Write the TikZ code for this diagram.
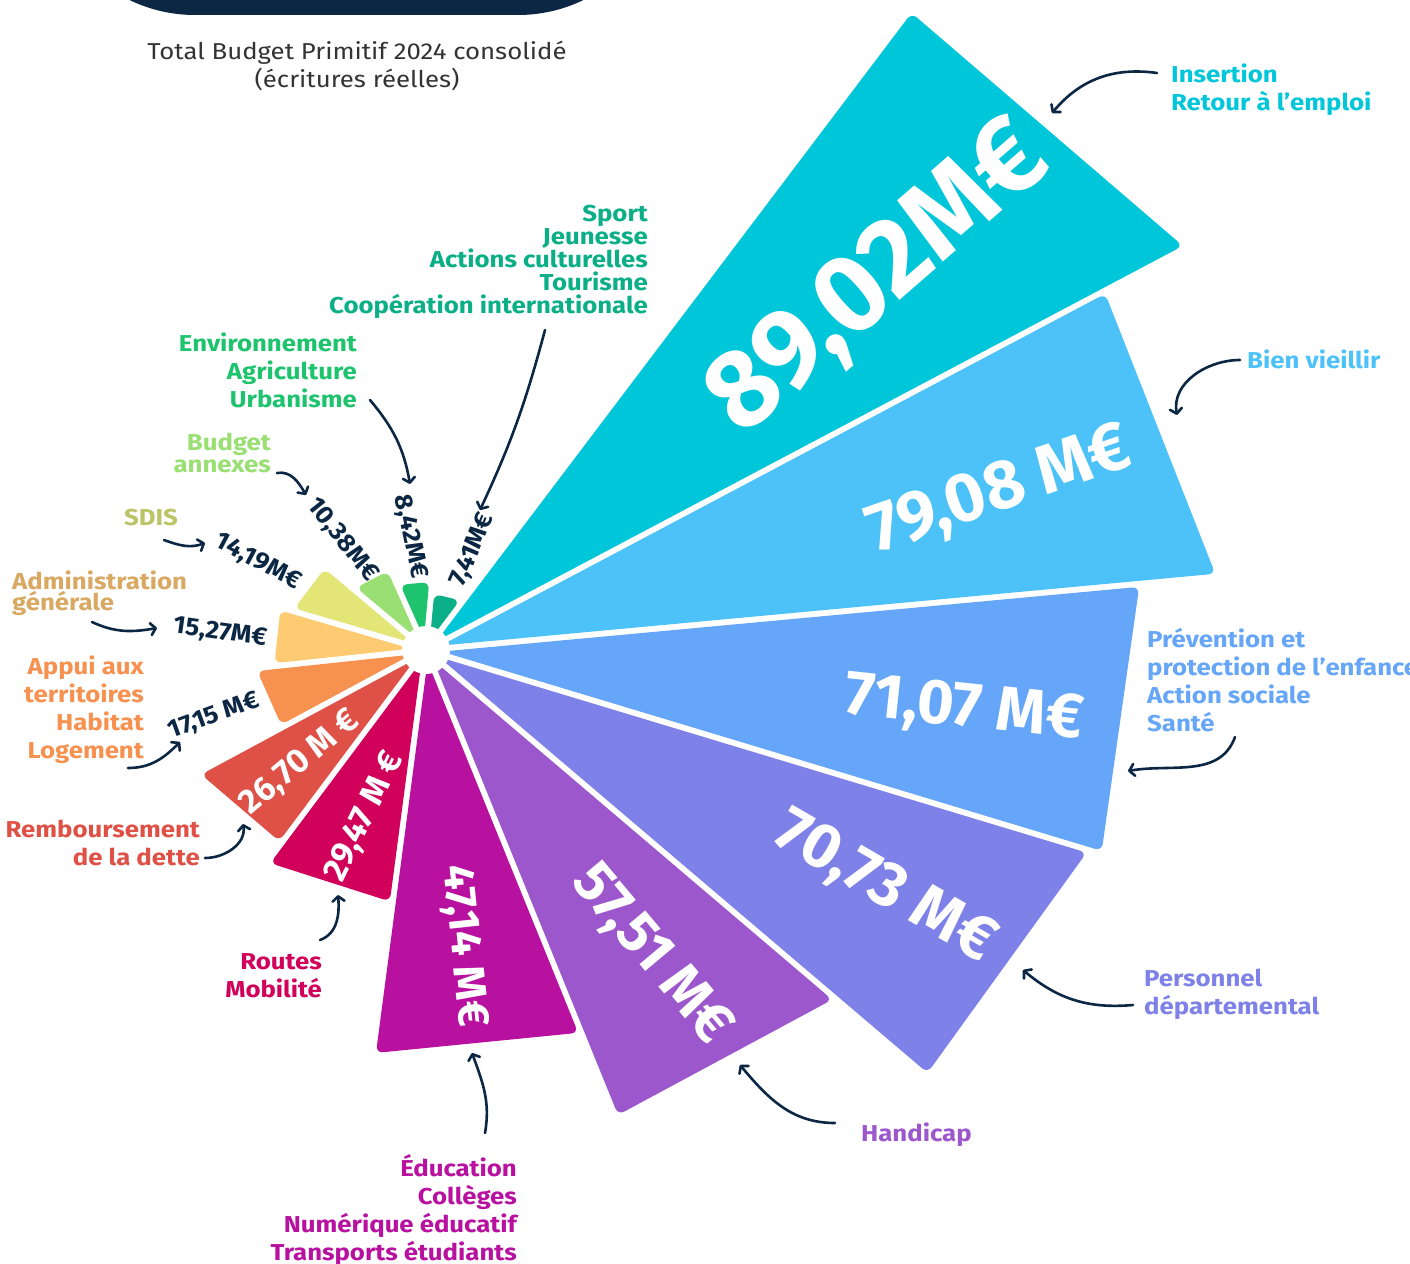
\documentclass[tikz,border=0pt]{standalone}
\usepackage{fontspec}
\setmainfont{Fira Sans}
\newfontfamily\labfont[FakeStretch=1.12]{Fira Sans}
\newfontfamily\valfont[FakeStretch=1.05]{Fira Sans}
\usetikzlibrary{arrows.meta,calc}
\definecolor{navy}{HTML}{0B2744}
\definecolor{cIns}{HTML}{00C6DA}
\definecolor{cBV}{HTML}{4CC2F8}
\definecolor{cPrev}{HTML}{66A6F8}
\definecolor{cPers}{HTML}{7E81E8}
\definecolor{cHand}{HTML}{9B57CB}
\definecolor{cEdu}{HTML}{B8109F}
\definecolor{cRoute}{HTML}{D1005A}
\definecolor{cRemb}{HTML}{DF5146}
\definecolor{cAppui}{HTML}{F6914F}
\definecolor{cAdmin}{HTML}{FECB73}
\definecolor{cAdminT}{HTML}{D9A862}
\definecolor{cSdis}{HTML}{E3E677}
\definecolor{cSdisT}{HTML}{BCC466}
\definecolor{cBud}{HTML}{9ADF73}
\definecolor{cEnv}{HTML}{1EC36E}
\definecolor{cSport}{HTML}{0AAE87}
\definecolor{subgray}{HTML}{333333}
% wedge: colour, start angle, end angle, radius at start, radius at end
\newcommand\wedgepiece[5]{%
  \pgfmathsetmacro\mA{(#2+#3)/2}%
  \pgfmathsetmacro\hA{(#3-#2)/2}%
  \pgfmathsetmacro\dA{3/sin(\hA)}%
  \fill[#1, rounded corners=7pt] ($(C)+(\mA:\dA pt)$) -- ($(C)+(#2:#4 pt)+(#2+90:3pt)$) -- ($(C)+(#3:#5 pt)+(#3-90:3pt)$) -- cycle;
}
\newcommand\fl{\rule{0pt}{22pt}}
\begin{document}
\begin{tikzpicture}[x=1pt,y=-1pt,
  lab/.style={inner sep=0pt, font=\labfont\fontsize{23}{28}\selectfont\bfseries},
  val/.style={inner sep=0pt, text=navy, font=\valfont\fontsize{25}{25}\selectfont\bfseries},
  big/.style={inner sep=0pt, text=white},
  arr/.style={draw=navy, line width=2.6pt, line cap=round, -{Straight Barb[length=5pt,width=12pt,line cap=round,line join=round]}},
]
\useasboundingbox (0,0) rectangle (1410,1263);
\fill[white] (0,0) rectangle (1410,1263);
% top banner
\fill[navy, rounded corners=150pt] (45,-300) rectangle (668,15);
\node[inner sep=0pt, align=center, text=subgray, font=\labfont\fontsize{23}{28}\selectfont] (sub) at (357,66) {Total Budget Primitif 2024 consolidé\\(écritures réelles)};

\coordinate (C) at (426,650);
\wedgepiece{cIns}{27.9}{52.9}{858}{801}
\wedgepiece{cBV}{5.3}{27.9}{793}{767}
\wedgepiece{cPrev}{-16.8}{5.3}{705}{716}
\wedgepiece{cPers}{-40.4}{-16.8}{656}{691}
\wedgepiece{cHand}{-67.9}{-40.4}{503}{536}
\wedgepiece{cEdu}{-97.5}{-67.9}{406}{412}
\wedgepiece{cRoute}{-126.8}{-97.5}{264}{254}
\wedgepiece{cRemb}{-151.7}{-126.8}{257}{241}
\wedgepiece{cAppui}{-173.9}{-151.7}{170}{163}
\wedgepiece{cAdmin}{163.7}{186.1}{151}{152}
\wedgepiece{cSdis}{140}{163.7}{130}{138}
\wedgepiece{cBud}{114}{140}{87.5}{93.5}
\wedgepiece{cEnv}{84.8}{114}{68}{70}
\wedgepiece{cSport}{52.9}{84.8}{60}{56.5}
\fill[white] (C) circle (24pt);

% values inside wedges
\node[big, rotate=41, font=\fontsize{110}{110}\selectfont\bfseries] (vIns) at (880,280) {89,02M€};
\node[big, rotate=19, font=\fontsize{69}{69}\selectfont\bfseries] (vBV) at (1000,492) {79,08 M€};
\node[big, rotate=-6, font=\fontsize{63}{63}\selectfont\bfseries] (vPrev) at (964,710) {71,07 M€};
\node[big, rotate=-30, font=\fontsize{63}{63}\selectfont\bfseries] (vPers) at (884,888) {70,73 M€};
\node[big, rotate=-50, font=\fontsize{58}{58}\selectfont\bfseries] (vHand) at (651,955) {57,51 M€};
\node[big, rotate=-84, font=\fontsize{44}{44}\selectfont\bfseries] (vEdu) at (463,946) {47,14 M€};
\node[big, rotate=64, font=\fontsize{34}{34}\selectfont\bfseries] (vRoute) at (365,817) {29,47 M €};
\node[big, rotate=40, font=\fontsize{34}{34}\selectfont\bfseries] (vRemb) at (300,763) {26,70 M €};

% small values
\node[val, rotate=20] (vAppui) at (214,716) {17,15 M€};
\node[val, rotate=-8] (vAdmin) at (220,633) {15,27M€};
\node[val, rotate=-28] (vSdis) at (258,562) {14,19M€};
\node[val, rotate=-51.5] (vBud) at (342,540) {10,38M€};
\node[val, rotate=-78] (vEnv) at (410,537) {8,42M€};
\node[val, rotate=67] (vSport) at (473,550) {7,41M€};

% labels
\node[lab, text=cIns, align=left, anchor=north west] (lIns) at (1171,60) {\fl Insertion\\Retour à l’emploi};
\node[lab, text=cBV, align=left, anchor=north west] (lBV) at (1247,346) {\fl Bien vieillir};
\node[lab, text=cPrev, align=left, anchor=north west] (lPrev) at (1147,625) {\fl Prévention et\\protection de l’enfance\\Action sociale\\Santé};
\node[lab, text=cPers, align=left, anchor=north west] (lPers) at (1144,964) {\fl Personnel\\départemental};
\node[lab, text=cHand, align=left, anchor=north west] (lHand) at (861,1119) {\fl Handicap};
\node[lab, text=cEdu, align=right, anchor=north east] (lEdu) at (517,1154) {\fl Éducation\\Collèges\\Numérique éducatif\\Transports étudiants};
\node[lab, text=cRoute, align=right, anchor=north east] (lRoute) at (322,947) {\fl Routes\\Mobilité};
\node[lab, text=cRemb, align=right, anchor=north east] (lRemb) at (200,815) {\fl Remboursement\\de la dette};
\node[lab, text=cAppui, align=right, anchor=north east] (lAppui) at (144,652) {\fl Appui aux\\territoires\\Habitat\\Logement};
\node[lab, text=cAdminT, align=left, anchor=north west, font=\labfont\fontsize{23}{21}\selectfont\bfseries] (lAdmin) at (12,567) {\fl Administration\\générale};
\node[lab, text=cSdisT, anchor=north] (lSdis) at (151,503) {\fl SDIS};
\node[lab, text=cBud, align=right, anchor=north east, font=\labfont\fontsize{23}{22}\selectfont\bfseries] (lBud) at (271,428) {\fl Budget\\annexes};
\node[lab, text=cEnv, align=right, anchor=north east] (lEnv) at (357,329) {\fl Environnement\\Agriculture\\Urbanisme};
\node[lab, text=cSport, align=right, anchor=north east, font=\labfont\fontsize{23}{23}\selectfont\bfseries] (lSport) at (648,199) {\fl Sport\\Jeunesse\\Actions culturelles\\Tourisme\\Coopération internationale};

% arrow end points
\coordinate (s1) at (1157,73);  \coordinate (e1) at (1052,113);
\coordinate (s2) at (1240,360); \coordinate (e2) at (1177,415);
\coordinate (s3) at (1235,737); \coordinate (e3) at (1128,771);
\coordinate (s4) at (1133,1005);\coordinate (e4) at (1023,970);
\coordinate (s5) at (835,1123); \coordinate (e5) at (740,1065);
\coordinate (s6) at (485,1133); \coordinate (e6) at (472,1053);
\coordinate (s7) at (320,940);  \coordinate (e7) at (338,895);
\coordinate (s8) at (205,858);  \coordinate (e8) at (243,824);
\coordinate (s9) at (128,768);  \coordinate (e9) at (180,742);
\coordinate (s10) at (92,622);  \coordinate (e10) at (157,628);
\coordinate (s11) at (164,540); \coordinate (e11) at (205,543);
\coordinate (s12) at (277,473); \coordinate (e12) at (306,495);
\coordinate (s13) at (370,400); \coordinate (e13) at (410,484);
\coordinate (s14) at (545,330); \coordinate (e14) at (480,510);

\draw[arr] (s1) to[out=172,in=50] (e1);
\draw[arr] (s2) to[out=180,in=100] (e2);
\draw[arr] (s3) to[out=-110,in=10] (e3);
\draw[arr] (s4) to[out=185,in=-40] (e4);
\draw[arr] (s5) to[out=180,in=-50] (e5);
\draw[arr] (s6) to[out=80,in=-70] (e6);
\draw[arr] (s7) to[out=20,in=-85] (e7);
\draw[arr] (s8) to[out=0,in=-80] (e8);
\draw[arr] (s9) to[out=0,in=-135] (e9);
\draw[arr] (s10) to[out=-25,in=190] (e10);
\draw[arr] (s11) to[out=-20,in=200] (e11);
\draw[arr] (s12) to[out=10,in=120] (e12);
\draw[arr] (s13) to[out=-50,in=100] (e13);
\draw[arr] (s14) to[out=-105,in=65] (e14);
\end{tikzpicture}
\end{document}
